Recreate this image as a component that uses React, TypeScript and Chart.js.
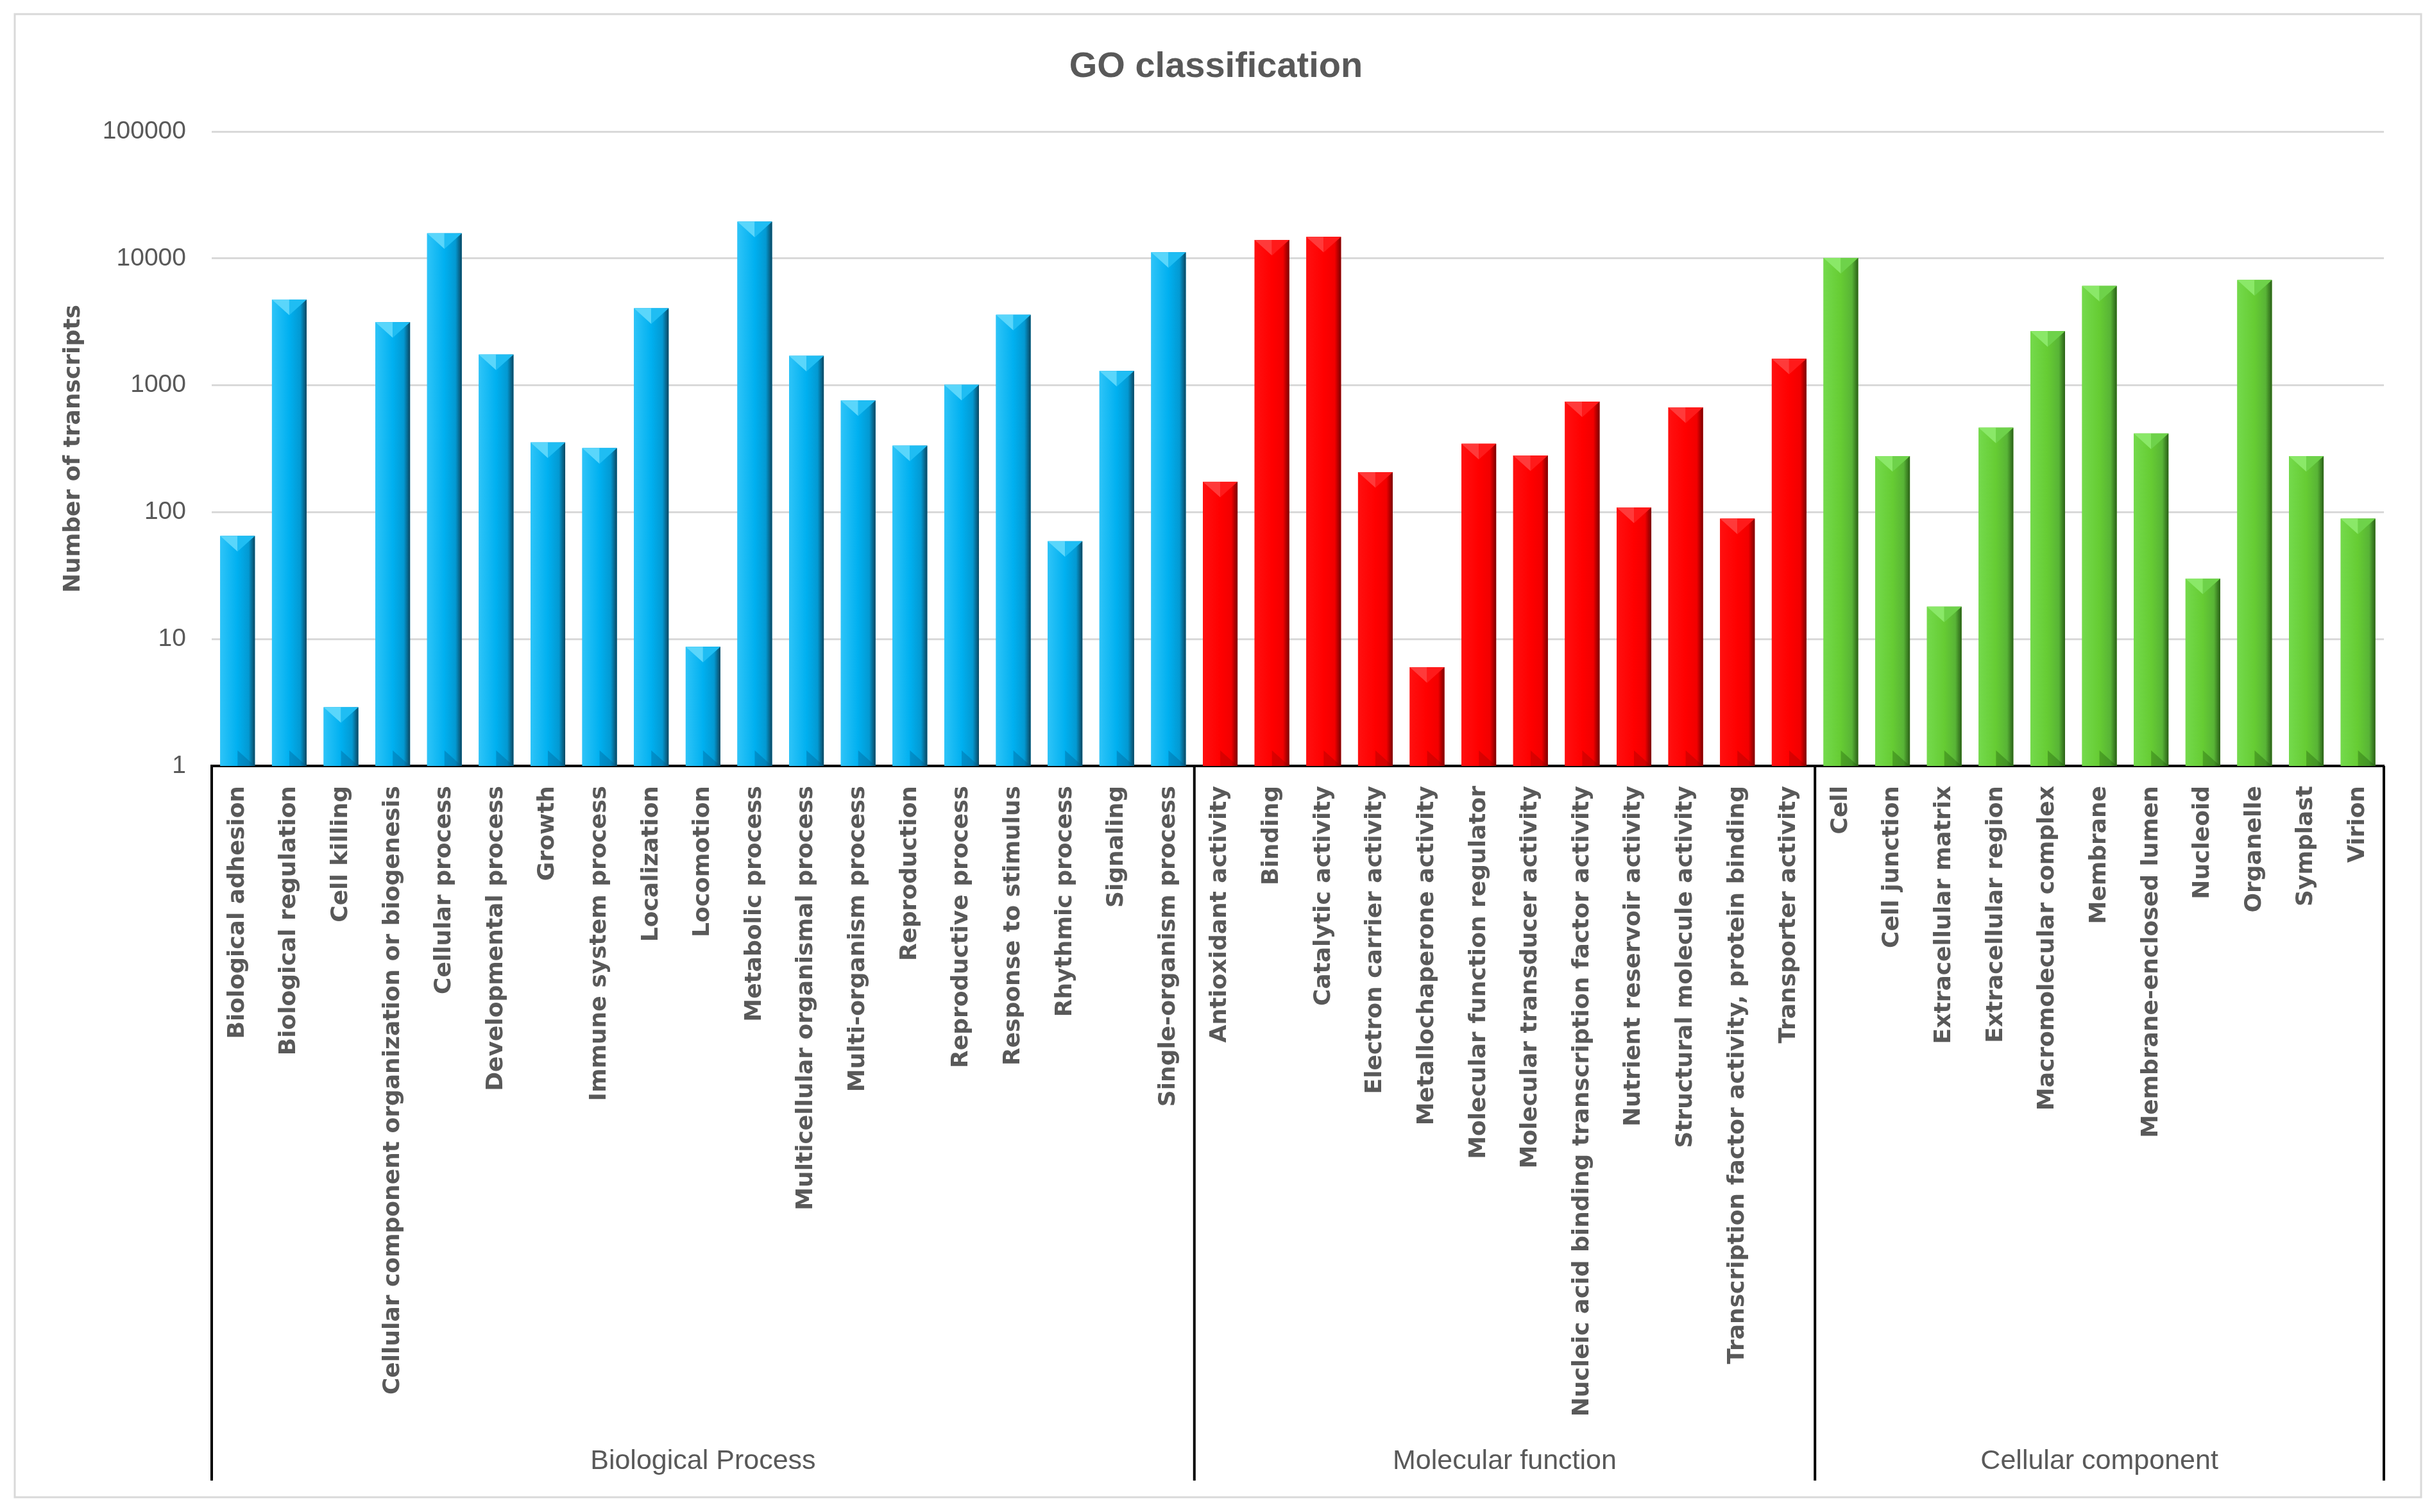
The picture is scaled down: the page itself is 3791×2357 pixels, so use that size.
import React, { useEffect, useRef } from 'react';
import { Chart, registerables } from 'chart.js';

Chart.register(...registerables);

// ---------- data ----------
const bpLabels = [
  'Biological adhesion',
  'Biological regulation',
  'Cell killing',
  'Cellular component organization or biogenesis',
  'Cellular process',
  'Developmental process',
  'Growth',
  'Immune system process',
  'Localization',
  'Locomotion',
  'Metabolic process',
  'Multicellular organismal process',
  'Multi-organism process',
  'Reproduction',
  'Reproductive process',
  'Response to stimulus',
  'Rhythmic process',
  'Signaling',
  'Single-organism process',
];
const bpValues = [65, 4750, 2.9, 3150, 15800, 1750, 355, 320, 4050, 8.7, 19500, 1710, 760, 335, 1010, 3600, 59, 1300, 11200];

const mfLabels = [
  'Antioxidant activity',
  'Binding',
  'Catalytic activity',
  'Electron carrier activity',
  'Metallochaperone activity',
  'Molecular function regulator',
  'Molecular transducer activity',
  'Nucleic acid binding transcription factor activity',
  'Nutrient reservoir activity',
  'Structural molecule activity',
  'Transcription factor activity, protein binding',
  'Transporter activity',
];
const mfValues = [174, 14000, 14800, 207, 6, 346, 280, 745, 109, 670, 89, 1620];

const ccLabels = [
  'Cell',
  'Cell junction',
  'Extracellular matrix',
  'Extracellular region',
  'Macromolecular complex',
  'Membrane',
  'Membrane-enclosed lumen',
  'Nucleoid',
  'Organelle',
  'Symplast',
  'Virion',
];
const ccValues = [10100, 277, 18, 464, 2670, 6080, 417, 30, 6760, 277, 89];

const groupNames = ['Biological Process', 'Molecular function', 'Cellular component'];
const yTickValues = [1, 10, 100, 1000, 10000, 100000];
const titleText = 'GO classification';
const yAxisTitle = 'Number of transcripts';

// ---------- styling ----------
const W = 3791;
const H = 2357;
const TEXT = '#595959';
const SIDE_PAD = 35;
const palettes = [
  { main: '#00B0F0', light: '#2EC4F8', mid: '#0399D2', dark: '#0B4660', top: '#5AD6FB', topR: '#1FBDF3', bottom: 'rgba(0,90,140,0.35)' },
  { main: '#FF0000', light: '#FF1010', mid: '#F20000', dark: '#7A0000', top: '#FF3A3A', topR: '#FF1A1A', bottom: 'rgba(140,0,0,0.3)' },
  { main: '#66CC33', light: '#74DA4C', mid: '#58B436', dark: '#2A6017', top: '#8AE868', topR: '#6ED24A', bottom: 'rgba(30,90,10,0.35)' },
];

const groups = [bpLabels, mfLabels, ccLabels];
const allLabels = [...bpLabels, ...mfLabels, ...ccLabels];
const allValues = [...bpValues, ...mfValues, ...ccValues];
const groupOf: number[] = [];
groups.forEach((g, gi) => g.forEach(() => groupOf.push(gi)));

const framePlugin = {
  id: 'frame',
  beforeDraw(chart: any) {
    const ctx = chart.ctx;
    ctx.save();
    ctx.fillStyle = '#FFFFFF';
    ctx.fillRect(0, 0, chart.width, chart.height);
    ctx.strokeStyle = '#D9D9D9';
    ctx.lineWidth = 3;
    ctx.strokeRect(23, 22, chart.width - 23 - 17, chart.height - 22 - 23);
    ctx.restore();
  },
};

const bevelPlugin = {
  id: 'bevel',
  afterDatasetsDraw(chart: any) {
    const meta = chart.getDatasetMeta(0);
    const ctx = chart.ctx;
    ctx.save();
    meta.data.forEach((el: any, i: number) => {
      const { x, y, base, width } = el.getProps(['x', 'y', 'base', 'width'], true);
      const p = palettes[groupOf[i]];
      const l = x - width / 2;
      const r = x + width / 2;
      const h = base - y;
      if (h <= 0) return;
      const g = ctx.createLinearGradient(l, 0, r, 0);
      g.addColorStop(0, p.light);
      g.addColorStop(0.5, p.main);
      g.addColorStop(0.82, p.mid);
      g.addColorStop(1, p.dark);
      ctx.fillStyle = g;
      ctx.fillRect(l, y, width, h);
      const d = Math.min(width * 0.45, h / 2);
      // top facet
      ctx.fillStyle = p.top;
      ctx.beginPath();
      ctx.moveTo(l, y);
      ctx.lineTo(x, y);
      ctx.lineTo(x, y + d);
      ctx.closePath();
      ctx.fill();
      ctx.fillStyle = p.topR;
      ctx.beginPath();
      ctx.moveTo(x, y);
      ctx.lineTo(r, y);
      ctx.lineTo(x, y + d);
      ctx.closePath();
      ctx.fill();
      // bottom facet (subtle)
      ctx.fillStyle = p.bottom;
      ctx.beginPath();
      ctx.moveTo(x, base);
      ctx.lineTo(r, base);
      ctx.lineTo(x, base - d);
      ctx.closePath();
      ctx.fill();
    });
    ctx.restore();
  },
};

const groupAxisPlugin = {
  id: 'groupAxis',
  afterDraw(chart: any) {
    const xs = chart.scales.x;
    const area = chart.chartArea;
    const ctx = chart.ctx;
    const lineTop = area.bottom;
    const lineBottom = chart.height - 49;
    const labelY = chart.height - 79;
    const edges: number[] = [area.left];
    let idx = 0;
    groups.forEach((g, gi) => {
      idx += g.length;
      if (gi < groups.length - 1) {
        edges.push((xs.getPixelForValue(idx - 1) + xs.getPixelForValue(idx)) / 2);
      }
    });
    edges.push(area.right);
    ctx.save();
    ctx.strokeStyle = '#000000';
    ctx.lineWidth = 4;
    edges.forEach((ex) => {
      ctx.beginPath();
      ctx.moveTo(ex, lineTop);
      ctx.lineTo(ex, lineBottom);
      ctx.stroke();
    });
    ctx.fillStyle = TEXT;
    ctx.font = '43px "Liberation Sans", Arial, sans-serif';
    ctx.textAlign = 'center';
    ctx.textBaseline = 'middle';
    groupNames.forEach((name, gi) => {
      ctx.fillText(name, (edges[gi] + edges[gi + 1]) / 2, labelY);
    });
    ctx.restore();
  },
};

export default function App() {
  const canvasRef = useRef<HTMLCanvasElement | null>(null);

  useEffect(() => {
    const canvas = canvasRef.current;
    if (!canvas) return;
    const chart = new Chart(canvas, {
      type: 'bar',
      data: {
        labels: allLabels,
        datasets: [
          {
            data: allValues,
            backgroundColor: groupOf.map((g) => palettes[g].main),
            borderWidth: 0,
            barPercentage: 0.67,
            categoryPercentage: 1,
          },
        ],
      },
      options: {
        responsive: false,
        animation: false,
        devicePixelRatio: 1,
        layout: { padding: { left: SIDE_PAD, right: SIDE_PAD, top: 0, bottom: 0 } },
        plugins: {
          legend: { display: false },
          tooltip: { enabled: false },
          title: {
            display: true,
            text: titleText,
            color: TEXT,
            font: { family: '"Liberation Sans", Arial, sans-serif', size: 56, weight: 'bold' },
            padding: { top: 71, bottom: 67 },
          },
        },
        scales: {
          x: {
            type: 'category',
            grid: { display: true, drawOnChartArea: false, drawTicks: false, color: 'rgba(0,0,0,0)' },
            border: { display: true, color: '#000000', width: 4 },
            ticks: {
              autoSkip: false,
              maxRotation: 90,
              minRotation: 90,
              padding: 31,
              color: TEXT,
              font: { family: '"DejaVu Sans", sans-serif', size: 36, weight: 'bold' },
            },
            afterFit: (scale: any) => {
              scale.height = H - 1194;
            },
          },
          y: {
            type: 'logarithmic',
            min: 1,
            max: 100000,
            grid: { color: '#D9D9D9', lineWidth: 3, drawTicks: false },
            border: { display: false },
            afterBuildTicks: (scale: any) => {
              scale.ticks = yTickValues.map((v) => ({ value: v }));
            },
            ticks: {
              padding: 40,
              color: TEXT,
              font: { family: '"Liberation Sans", Arial, sans-serif', size: 39 },
              callback: (v: any) => String(v),
            },
            title: {
              display: true,
              text: yAxisTitle,
              color: TEXT,
              font: { family: '"DejaVu Sans", sans-serif', size: 36, weight: 'bold' },
              padding: { top: 93 - SIDE_PAD, bottom: 0 },
            },
            afterFit: (scale: any) => {
              scale.width = 330 - SIDE_PAD;
            },
          },
          yRightSpace: {
            type: 'linear',
            position: 'right',
            display: true,
            grid: { display: false, drawTicks: false },
            border: { display: false },
            ticks: { display: false },
            afterFit: (scale: any) => {
              scale.width = W - SIDE_PAD - 3716;
            },
          },
        },
      },
      plugins: [framePlugin, bevelPlugin, groupAxisPlugin],
    } as any);
    return () => chart.destroy();
  }, []);

  return (
    <div style={{ position: 'fixed', left: 0, top: 0, width: W, height: H, background: '#fff' }}>
      <canvas ref={canvasRef} width={W} height={H} style={{ width: W, height: H, display: 'block' }} />
    </div>
  );
}
